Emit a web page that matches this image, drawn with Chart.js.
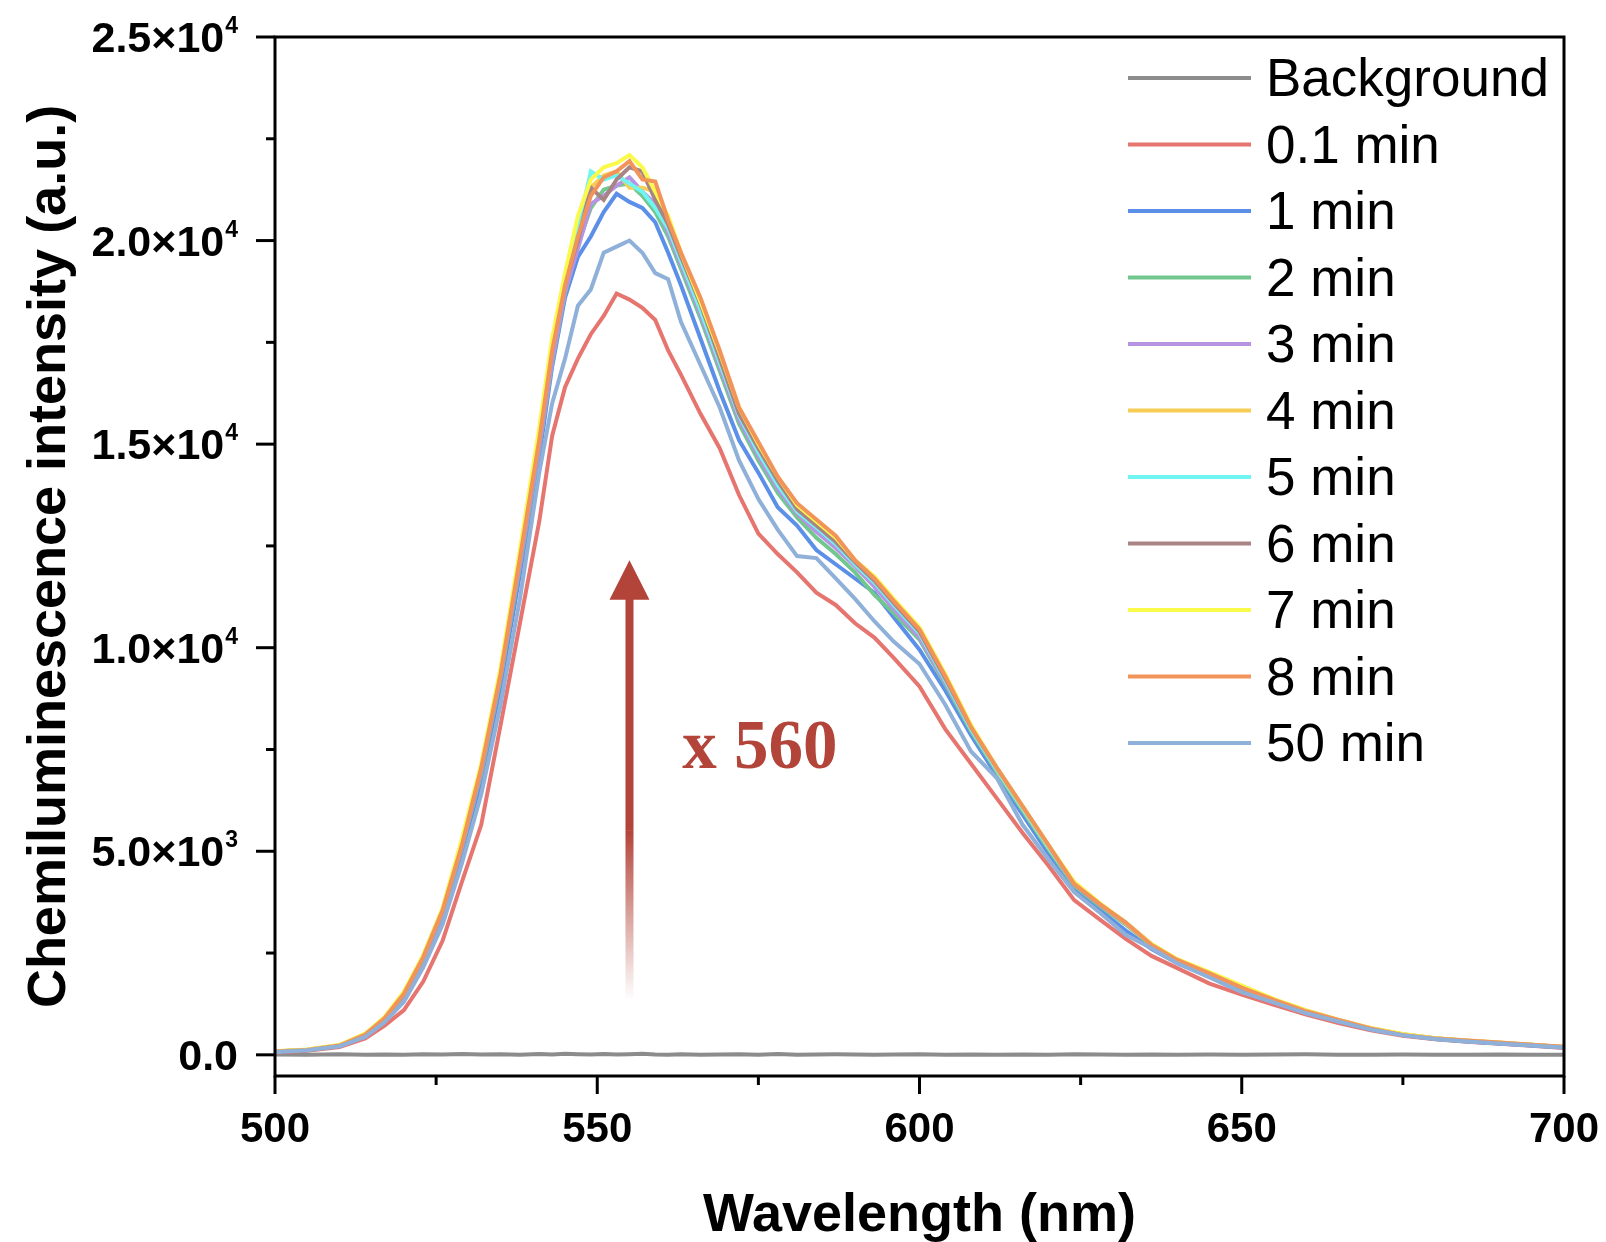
<!DOCTYPE html>
<html>
<head>
<meta charset="utf-8">
<script src="https://cdn.jsdelivr.net/npm/chart.js@4.4.1/dist/chart.umd.min.js"></script>
<style>
    html, body { margin: 0; padding: 0; background: #ffffff; }
    canvas { display: block; }
</style>
</head>
<body>
<canvas id="spectraChart" width="1606" height="1242"></canvas>
<script>
// Wavelength grid (nm)
const wavelengths = [500, 505, 510, 514, 517, 520, 523, 526, 529, 532, 535, 538, 541, 543, 545, 547, 549, 551, 553, 555,
    557, 559, 561, 563, 566, 569, 572, 575, 578, 581, 584, 587, 590, 593, 596, 600, 604, 608, 612, 616,
    620, 624, 628, 632, 636, 640, 645, 650, 655, 660, 665, 670, 675, 680, 685, 690, 695, 700];

// Tick values
const xTickValues = [500, 525, 550, 575, 600, 625, 650, 675, 700];
const yTickValues = [0, 2500, 5000, 7500, 10000, 12500, 15000, 17500, 20000, 22500, 25000];

// Intensities (a.u.)
const backgroundVals = [10, 5, 15, 5, 10, 0, 15, 10, 20, 10, 15, 5, 20, 10, 25, 15, 10, 20, 10, 15,
    25, 10, 5, 15, 5, 10, 15, 5, 20, 5, 10, 15, 10, 0, 10, 15, 5, 10, 0, 10,
    5, 15, 10, 0, 10, 5, 10, 0, 10, 15, 5, 0, 10, 5, 0, 10, 0, 5];
const min01Vals = [60, 100, 190, 400, 720, 1100, 1800, 2800, 4250, 5650, 8100, 10600, 13100, 15200, 16400, 17100, 17700, 18150, 18700, 18550,
    18350, 18050, 17300, 16700, 15750, 14900, 13750, 12800, 12300, 11850, 11350, 11050, 10600, 10250, 9750, 9050, 8000, 7150, 6300, 5450,
    4650, 3800, 3320, 2850, 2430, 2130, 1750, 1480, 1230, 990, 780, 600, 470, 380, 320, 270, 220, 170];
const min1Vals = [75, 115, 220, 470, 850, 1400, 2250, 3350, 4950, 6750, 9050, 11800, 14700, 16900, 18600, 19600, 20100, 20700, 21150, 20950,
    20800, 20450, 19700, 18900, 17600, 16300, 15100, 14300, 13450, 13000, 12400, 12050, 11700, 11350, 10750, 9950, 8950, 7850, 6850, 5900,
    4950, 4100, 3550, 3050, 2600, 2250, 1920, 1600, 1300, 1050, 830, 630, 490, 390, 330, 280, 230, 180];
const min2Vals = [80, 120, 225, 490, 880, 1450, 2330, 3450, 5100, 6900, 9250, 12000, 14900, 17000, 18700, 19900, 20800, 21250, 21350, 21400,
    21100, 20700, 20100, 19300, 18100, 16800, 15500, 14600, 13800, 13200, 12700, 12300, 11850, 11300, 10850, 10200, 9100, 7950, 6950, 6000,
    5050, 4150, 3650, 3200, 2680, 2300, 1970, 1650, 1330, 1070, 840, 640, 500, 400, 340, 290, 240, 190];
const min3Vals = [80, 125, 230, 495, 890, 1470, 2350, 3480, 5120, 6950, 9300, 12050, 14950, 17050, 18750, 19800, 20900, 21100, 21350, 21550,
    21200, 20900, 20200, 19400, 18200, 16900, 15600, 14700, 13900, 13300, 12850, 12450, 12000, 11500, 10950, 10250, 9150, 8000, 7000, 6050,
    5100, 4180, 3680, 3220, 2700, 2320, 1980, 1660, 1340, 1080, 850, 650, 500, 405, 345, 295, 245, 190];
const min4Vals = [85, 125, 235, 510, 910, 1520, 2420, 3580, 5250, 7100, 9450, 12300, 15250, 17450, 19000, 20300, 21300, 21600, 21700, 21300,
    21300, 21200, 20500, 19650, 18500, 17200, 15850, 14950, 14150, 13450, 13050, 12650, 12100, 11650, 11100, 10400, 9250, 8050, 7000, 6050,
    5100, 4200, 3700, 3230, 2700, 2330, 2010, 1690, 1360, 1090, 860, 655, 505, 405, 345, 295, 245, 190];
const min5Vals = [80, 125, 230, 500, 900, 1500, 2400, 3550, 5200, 7050, 9400, 12250, 15200, 17400, 19000, 20300, 21700, 21500, 21600, 21400,
    21200, 20800, 20300, 19500, 18300, 17000, 15700, 14800, 14000, 13350, 12950, 12550, 12050, 11600, 11050, 10350, 9200, 8000, 7000, 6050,
    5100, 4200, 3700, 3250, 2700, 2320, 1990, 1670, 1350, 1080, 850, 650, 500, 400, 340, 290, 240, 185];
const min6Vals = [80, 120, 230, 500, 900, 1500, 2400, 3550, 5200, 7050, 9400, 12250, 15150, 17350, 18950, 20000, 21300, 21000, 21500, 21800,
    21700, 21000, 20400, 19600, 18450, 17100, 15750, 14900, 14100, 13400, 13000, 12600, 12100, 11650, 11100, 10400, 9250, 8050, 7050, 6100,
    5150, 4200, 3700, 3250, 2720, 2330, 2000, 1680, 1350, 1080, 850, 650, 500, 400, 340, 290, 240, 185];
const min7Vals = [85, 130, 240, 520, 930, 1550, 2450, 3600, 5300, 7150, 9500, 12400, 15400, 17600, 19200, 20600, 21500, 21800, 21900, 22100,
    21800, 21200, 20600, 19700, 18500, 17250, 15900, 15000, 14200, 13500, 13100, 12700, 12150, 11750, 11200, 10500, 9350, 8100, 7050, 6100,
    5150, 4250, 3720, 3250, 2720, 2350, 2030, 1700, 1370, 1090, 860, 660, 510, 410, 350, 300, 250, 190];
const min8Vals = [80, 120, 230, 500, 900, 1500, 2400, 3550, 5150, 7050, 9350, 12200, 15100, 17300, 18900, 20100, 21100, 21550, 21700, 21950,
    21500, 21450, 20500, 19700, 18600, 17300, 15900, 15050, 14200, 13550, 13150, 12750, 12150, 11700, 11150, 10450, 9300, 8050, 7050, 6100,
    5150, 4200, 3700, 3250, 2700, 2330, 2000, 1650, 1350, 1070, 860, 650, 490, 400, 350, 300, 250, 200];
const min50Vals = [70, 110, 210, 440, 800, 1300, 2150, 3200, 4700, 6400, 8600, 11200, 14300, 16000, 17100, 18400, 18800, 19700, 19850, 20000,
    19700, 19200, 19050, 18000, 16950, 15900, 14600, 13650, 12900, 12250, 12200, 11700, 11200, 10650, 10150, 9600, 8600, 7450, 6800, 5650,
    4800, 4000, 3490, 2950, 2620, 2250, 1900, 1540, 1280, 1020, 820, 620, 480, 390, 330, 280, 230, 180];

const seriesLabels = ['Background', '0.1 min', '1 min', '2 min', '3 min', '4 min', '5 min', '6 min', '7 min', '8 min', '50 min'];
const seriesValues = [backgroundVals, min01Vals, min1Vals, min2Vals, min3Vals, min4Vals, min5Vals, min6Vals, min7Vals, min8Vals, min50Vals];
const seriesColors = ['#8c8c8c', '#e6756f', '#5b8fe8', '#72c78f', '#b693e3', '#f7cd55', '#6ff5f2', '#a98484', '#fafa4a', '#f2935a', '#8fb0d9'];

// Annotation (data units)
const arrowWavelength = 555;
const arrowTipValue = 12150;
const arrowHeadBaseValue = 11200;
const arrowFadeValue = 5500;
const arrowBottomValue = 1350;
const annotationText = 'x 560';
const annotationWavelength = 563.2;
const annotationValue = 7050;
const annotationColor = '#b3443a';

const FONT_SANS = "'Liberation Sans', Arial, sans-serif";

function sciParts(v) {
    if (v === 0) return ['0.0', ''];
    const exp = Math.floor(Math.log10(v) + 1e-9);
    const mant = v / Math.pow(10, exp);
    return [mant.toFixed(1) + '\u00d710', String(exp)];
}

const decorPlugin = {
    id: 'decor',
    beforeDatasetsDraw(chart) {
        const ctx = chart.ctx;
        const xs = chart.scales.x;
        const ys = chart.scales.y;
        const ax = xs.getPixelForValue(arrowWavelength);
        const tip = ys.getPixelForValue(arrowTipValue);
        const base = ys.getPixelForValue(arrowHeadBaseValue);
        const fade = ys.getPixelForValue(arrowFadeValue);
        const bottom = ys.getPixelForValue(arrowBottomValue);

        ctx.save();
        const grad = ctx.createLinearGradient(0, fade, 0, bottom);
        grad.addColorStop(0, 'rgba(179, 68, 58, 1)');
        grad.addColorStop(1, 'rgba(179, 68, 58, 0)');
        ctx.fillStyle = 'rgb(179, 68, 58)';
        ctx.fillRect(ax - 4, base, 8, fade - base);
        ctx.fillStyle = grad;
        ctx.fillRect(ax - 4, fade, 8, bottom - fade);
        ctx.fillStyle = annotationColor;
        ctx.beginPath();
        ctx.moveTo(ax, tip);
        ctx.lineTo(ax - 20, base + 1);
        ctx.lineTo(ax + 20, base + 1);
        ctx.closePath();
        ctx.fill();

        ctx.font = "bold 69px 'Liberation Serif', serif";
        ctx.textAlign = 'left';
        ctx.textBaseline = 'alphabetic';
        ctx.fillText(annotationText, xs.getPixelForValue(annotationWavelength), ys.getPixelForValue(annotationValue));
        ctx.restore();
    },
    afterDraw(chart) {
        const ctx = chart.ctx;
        const area = chart.chartArea;
        const xs = chart.scales.x;
        const ys = chart.scales.y;

        ctx.save();
        ctx.strokeStyle = '#000';
        ctx.fillStyle = '#000';
        ctx.lineWidth = 3;
        ctx.strokeRect(area.left, area.top, area.right - area.left, area.bottom - area.top);

        // x ticks and labels
        ctx.font = 'bold 42px ' + FONT_SANS;
        ctx.textAlign = 'center';
        ctx.textBaseline = 'alphabetic';
        xs.ticks.forEach(t => {
            const px = xs.getPixelForValue(t.value);
            const major = t.value % 50 === 0;
            ctx.beginPath();
            ctx.moveTo(px, area.bottom);
            ctx.lineTo(px, area.bottom + (major ? 18 : 9));
            ctx.stroke();
            if (major) ctx.fillText(String(t.value), px, 1142);
        });

        // y ticks and labels (mantissa x 10 with superscript exponent)
        ys.ticks.forEach(t => {
            const py = ys.getPixelForValue(t.value);
            const major = t.value % 5000 === 0;
            ctx.beginPath();
            ctx.moveTo(area.left, py);
            ctx.lineTo(area.left - (major ? 19 : 9), py);
            ctx.stroke();
            if (!major) return;
            const [main, sup] = sciParts(t.value);
            const right = 238;
            ctx.textAlign = 'left';
            ctx.font = 'bold 23px ' + FONT_SANS;
            const supW = sup ? ctx.measureText(sup).width : 0;
            if (sup) ctx.fillText(sup, right - supW, py - 4);
            ctx.font = 'bold 43px ' + FONT_SANS;
            ctx.textAlign = 'right';
            ctx.fillText(main, right - supW - (sup ? 1 : 0), py + 15);
        });

        // axis titles
        ctx.font = 'bold 54px ' + FONT_SANS;
        ctx.textAlign = 'center';
        ctx.textBaseline = 'alphabetic';
        ctx.fillText('Wavelength (nm)', (area.left + area.right) / 2, 1231);
        ctx.save();
        ctx.translate(65, (area.top + area.bottom) / 2);
        ctx.rotate(-Math.PI / 2);
        ctx.fillText('Chemiluminescence intensity (a.u.)', 0, 0);
        ctx.restore();

        // legend
        ctx.font = '53px ' + FONT_SANS;
        ctx.textAlign = 'left';
        ctx.lineWidth = 4;
        seriesLabels.forEach((label, i) => {
            const rowY = 78 + i * 66.5;
            ctx.strokeStyle = seriesColors[i];
            ctx.beginPath();
            ctx.moveTo(1128, rowY);
            ctx.lineTo(1251, rowY);
            ctx.stroke();
            ctx.fillStyle = '#000';
            ctx.fillText(label, 1266, rowY + 18);
        });
        ctx.restore();
    }
};

const datasets = seriesLabels.map((label, i) => ({
    label: label,
    data: wavelengths.map((w, j) => ({ x: w, y: seriesValues[i][j] })),
    borderColor: seriesColors[i],
    backgroundColor: seriesColors[i],
    borderWidth: 4,
    pointRadius: 0,
    tension: 0,
    fill: false,
    order: seriesLabels.length - i
}));

new Chart(document.getElementById('spectraChart').getContext('2d'), {
    type: 'line',
    data: { datasets: datasets },
    options: {
        responsive: false,
        animation: false,
        devicePixelRatio: 1,
        layout: { padding: { top: 37, right: 42, left: 0, bottom: 0 } },
        plugins: {
            legend: { display: false },
            tooltip: { enabled: false }
        },
        scales: {
            x: {
                type: 'linear',
                min: 500,
                max: 700,
                grid: { display: false },
                border: { display: false },
                ticks: { callback: () => '' },
                afterBuildTicks: scale => { scale.ticks = xTickValues.map(v => ({ value: v })); },
                afterFit: scale => { scale.height = 166; }
            },
            y: {
                type: 'linear',
                min: -520,
                max: 25000,
                grid: { display: false },
                border: { display: false },
                ticks: { callback: () => '' },
                afterBuildTicks: scale => { scale.ticks = yTickValues.map(v => ({ value: v })); },
                afterFit: scale => { scale.width = 275; }
            }
        }
    },
    plugins: [decorPlugin]
});
</script>
</body>
</html>
